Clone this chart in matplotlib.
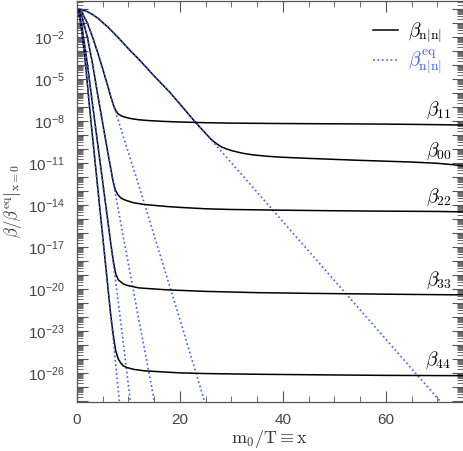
import numpy as np
import matplotlib
matplotlib.use("Agg")
from matplotlib import pyplot as plt
from matplotlib.ticker import LogLocator, FuncFormatter, MultipleLocator, NullFormatter

plt.rcParams['mathtext.fontset'] = 'cm'
plt.rcParams['font.family'] = ['Liberation Sans', 'DejaVu Sans']

# log10 of beta / beta_eq(x=0)
x_eq0 = [0, 1, 2, 3, 4, 6, 8, 10, 12, 15, 18, 20, 23, 25, 27, 30, 35, 40, 45, 50, 55, 60, 65, 70, 72]
lg_eq0 = [0, -0.05, -0.2, -0.4, -0.65, -1.3, -2.05, -2.85, -3.6, -4.8, -5.95, -6.8, -8.1, -8.9, -9.75,
          -11.0, -13.1, -15.2, -17.3, -19.4, -21.5, -23.6, -25.7, -27.8, -28.6]
x_b0 = [0, 1, 2, 3, 4, 6, 8, 10, 12, 15, 18, 20, 23, 25, 26, 27, 28, 29, 30, 32, 34, 37, 40, 45, 50,
        55, 60, 65, 70, 73, 75]
lg_b0 = [0, -0.05, -0.2, -0.4, -0.65, -1.3, -2.05, -2.85, -3.6, -4.8, -5.95, -6.8, -8.1, -8.9, -9.3,
         -9.6, -9.85, -10.0, -10.12, -10.3, -10.42, -10.53, -10.6, -10.68, -10.75, -10.82, -10.88,
         -10.94, -11.03, -11.13, -11.22]

x_eq1 = [0, 1, 2, 3, 4, 5, 6, 6.5, 7, 8, 10, 12, 14, 16, 18, 20, 22, 24, 25]
lg_eq1 = [0, -0.3, -1.0, -2.0, -3.1, -4.3, -5.55, -6.2, -6.8, -7.95, -10.3, -12.6, -15.0, -17.4,
          -19.8, -22.2, -24.65, -27.1, -28.35]
x_b1 = [0, 1, 2, 3, 4, 5, 6, 6.5, 7, 7.5, 8, 8.5, 9, 10, 11, 12, 14, 17, 20, 25, 30, 40, 50, 60, 70, 75]
lg_b1 = [0, -0.3, -1.0, -2.0, -3.1, -4.3, -5.55, -6.2, -6.8, -7.25, -7.5, -7.62, -7.7, -7.8, -7.87,
         -7.92, -7.98, -8.04, -8.08, -8.13, -8.16, -8.19, -8.21, -8.23, -8.27, -8.3]

x_eq2 = [0, 1, 2, 3, 4, 5, 6, 7, 8, 9, 10, 11, 12, 13, 14, 15, 15.3]
lg_eq2 = [0, -0.6, -2.0, -3.9, -6.1, -8.2, -10.3, -12.3, -14.3, -16.3, -18.25, -20.2, -22.2, -24.1,
          -26.05, -28.0, -28.6]
x_b2 = [0, 1, 2, 3, 4, 5, 6, 7, 7.45, 8, 8.5, 9, 9.7, 11, 13, 17.5, 20, 25, 30, 40, 50, 60, 70, 75]
lg_b2 = [0, -0.6, -2.0, -3.9, -6.1, -8.2, -10.3, -12.3, -12.95, -13.3, -13.5, -13.6, -13.7, -13.85,
         -13.97, -14.12, -14.18, -14.28, -14.33, -14.38, -14.42, -14.45, -14.47, -14.5]

x_eq3 = [0, 0.5, 1, 2, 2.9, 4, 5, 6, 7, 8, 9, 10, 10.4, 10.6]
lg_eq3 = [0, -0.45, -1.4, -3.9, -6.5, -9.6, -12.4, -15.2, -18.05, -20.9, -23.9, -26.95, -28.2, -28.8]
x_b3 = [0, 0.5, 1, 2, 2.9, 4, 5, 6, 6.5, 7, 7.5, 8, 9, 9.7, 12, 17.5, 25, 35, 45, 60, 75]
lg_b3 = [0, -0.45, -1.4, -3.9, -6.5, -9.6, -12.4, -15.2, -16.6, -17.9, -18.9, -19.35, -19.65,
         -19.75, -19.93, -20.07, -20.18, -20.27, -20.32, -20.38, -20.43]

x_eq4 = [0, 0.5, 1, 1.5, 2, 2.27, 3, 4, 5, 6, 7, 8, 8.3, 8.5]
lg_eq4 = [0, -0.6, -1.8, -3.4, -5.3, -6.4, -9.1, -12.7, -16.3, -19.9, -23.5, -27.2, -28.3, -29.0]
x_b4 = [0, 0.5, 1, 1.5, 2, 2.27, 3, 4, 5, 6, 6.5, 7, 7.5, 8, 8.5, 9, 9.7, 11, 13, 17.5, 20, 25, 35,
        50, 60, 75]
lg_b4 = [0, -0.6, -1.8, -3.4, -5.3, -6.4, -9.1, -12.7, -16.3, -19.9, -21.7, -23.2, -24.4, -25.0,
         -25.3, -25.5, -25.62, -25.75, -25.85, -25.95, -26.0, -26.05, -26.1, -26.15, -26.18, -26.2]

beta_x = [x_b0, x_b1, x_b2, x_b3, x_b4]
beta_lg = [lg_b0, lg_b1, lg_b2, lg_b3, lg_b4]
eq_x = [x_eq0, x_eq1, x_eq2, x_eq3, x_eq4]
eq_lg = [lg_eq0, lg_eq1, lg_eq2, lg_eq3, lg_eq4]
names = ['00', '11', '22', '33', '44']

blue = '#3f5cff'
grey = '#555555'

fig = plt.figure(figsize=(4.64, 4.51), dpi=100)
ax = fig.add_axes([0.166, 0.109, 0.832, 0.889])

for i in range(5):
    lb = r'$\beta_{\rm n|n|}$' if i == 0 else None
    le = r'$\beta^{\rm eq}_{\rm n|n|}$' if i == 0 else None
    ax.plot(beta_x[i], 10.0 ** np.array(beta_lg[i]), '-', color='k', lw=1.1, label=lb)
    ax.plot(eq_x[i], 10.0 ** np.array(eq_lg[i]), ':', color=blue, lw=1.2, label=le)
    # curve name just above the right end of the plateau
    ax.text(72.8, 10.0 ** (beta_lg[i][-1] + 0.3), r'$\beta_{%s}$' % names[i],
            ha='right', va='bottom', fontsize=14)

ax.set_yscale('log')
ax.set_xlim(0, 75)
ax.set_ylim(10.0 ** -28.07, 10.0 ** 0.57)

ax.yaxis.set_major_locator(LogLocator(base=10, numticks=100))
ax.yaxis.set_minor_locator(LogLocator(base=10, subs=np.arange(2, 10), numticks=100))
ax.yaxis.set_minor_formatter(NullFormatter())


def yfmt(v, pos):
    e = int(round(np.log10(v)))
    if (e + 2) % 3 == 0:
        return r'$\mathregular{10^{%d}}$' % e
    return ''


ax.yaxis.set_major_formatter(FuncFormatter(yfmt))
ax.xaxis.set_major_locator(MultipleLocator(20))
ax.xaxis.set_minor_locator(MultipleLocator(5))

ax.tick_params(which='both', direction='in', top=True, right=True, colors=grey,
               labelcolor='#444444', labelsize=11)
ax.tick_params(which='major', length=8, width=0.8)
ax.tick_params(which='minor', length=4, width=0.6)
ax.tick_params(axis='y', pad=9)
ax.tick_params(axis='x', pad=8)
for s in ax.spines.values():
    s.set_color(grey)
    s.set_linewidth(0.9)

ax.set_xlabel(r'$\rm m_0/T\equiv x$', fontsize=13, color='#333333', labelpad=1)
ax.set_ylabel(r'$\beta/\left.\beta^{\rm eq}\right|_{\rm x=0}$', fontsize=12, color='#333333',
              labelpad=3)

leg = ax.legend(loc='upper right', bbox_to_anchor=(0.99, 0.995), frameon=False, fontsize=14,
                handlelength=1.3, handletextpad=0.5, labelspacing=0.15)
leg.get_texts()[1].set_color(blue)

fig.savefig('out.png', dpi=100)
